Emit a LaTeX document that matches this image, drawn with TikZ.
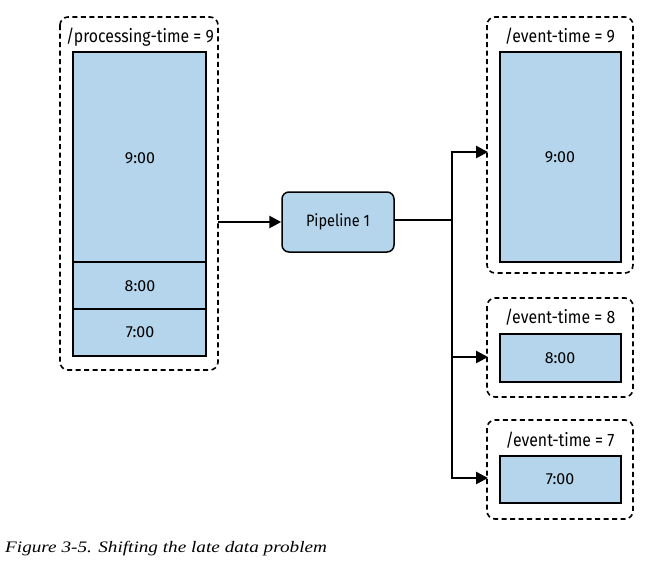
\documentclass[tikz,border=0pt]{standalone}
\usepackage{fontspec}
\setmainfont{Liberation Serif}
\newfontfamily\diafont[FakeStretch=0.88]{Fira Sans}
\newfontfamily\numfont{Fira Sans}
\newfontfamily\capfont[FakeStretch=1.2]{Liberation Serif}
\usetikzlibrary{arrows.meta}
\definecolor{boxblue}{HTML}{B4D5EB}
\tikzset{
  cont/.style={draw, dashed, dash pattern=on 5pt off 3.5pt, line width=1.6pt, rounded corners=8pt},
  cell/.style={draw, fill=boxblue, line width=1.5pt},
  ttl/.style={font=\diafont\fontsize{18}{20}\selectfont, inner sep=0pt},
  lbl/.style={font=\numfont\fontsize{16}{18}\selectfont, inner sep=0pt},
  plbl/.style={font=\diafont\fontsize{16.5}{18}\selectfont, inner sep=0pt},
  flow/.style={line width=2.6pt, -{Triangle[length=12pt,width=12pt]}},
  flowplain/.style={line width=2.6pt},
}
\begin{document}
\begin{tikzpicture}[x=1pt,y=-1pt]
\useasboundingbox (0,0) rectangle (661,568);
% left container
\draw[cont] (60,17) rectangle (218,370);
\coordinate (lc) at (218,222);
\node[ttl] (tp) at (140,37) {/processing-time = 9};
\draw[cell] (73,52) rectangle (206,262);
\draw[cell] (73,262) rectangle (206,309);
\draw[cell] (73,309) rectangle (206,356);
\node[lbl] (l9) at (140,158) {9:00};
\node[lbl] (l8) at (140,286) {8:00};
\node[lbl] (l7) at (140,332) {7:00};
% pipeline
\node[draw, fill=boxblue, line width=1.5pt, rounded corners=7pt, minimum width=112pt, minimum height=60pt, plbl] (pipe) at (338,222) {Pipeline 1};
\draw[flow] (lc) -- (pipe.west);
% branch
\coordinate (br) at (452,220);
\coordinate (bt) at (452,152);
\coordinate (bm) at (452,357);
\coordinate (bb) at (452,478);
\coordinate (t1) at (488,152);
\coordinate (t2) at (488,357);
\coordinate (t3) at (488,478);
\draw[flowplain] (pipe.east |- br) -- (br);
\draw[flowplain] (bt) -- (bb);
\draw[flow] ([xshift=-1.3pt]bt) -- (t1);
\draw[flow] (bm) -- (t2);
\draw[flow] ([xshift=-1.3pt]bb) -- (t3);
% right containers
\draw[cont] (487,17) rectangle (633,273);
\node[ttl] (e9) at (560,36) {/event-time = 9};
\draw[cell] (500,52) rectangle (621,262);
\node[lbl] (r9) at (560,157) {9:00};

\draw[cont] (487,298) rectangle (633,397);
\node[ttl] (e8) at (560,317) {/event-time = 8};
\draw[cell] (500,334) rectangle (621,382);
\node[lbl] (r8) at (560,358) {8:00};

\draw[cont] (487,420) rectangle (633,519);
\node[ttl] (e7) at (560,440) {/event-time = 7};
\draw[cell] (500,456) rectangle (621,503);
\node[lbl] (r7) at (560,479) {7:00};
% caption
\node[anchor=west, inner sep=0pt, font=\capfont\itshape\fontsize{16}{18}\selectfont] (cap) at (5,549) {Figure 3-5. Shifting the late data problem};
\end{tikzpicture}
\end{document}
